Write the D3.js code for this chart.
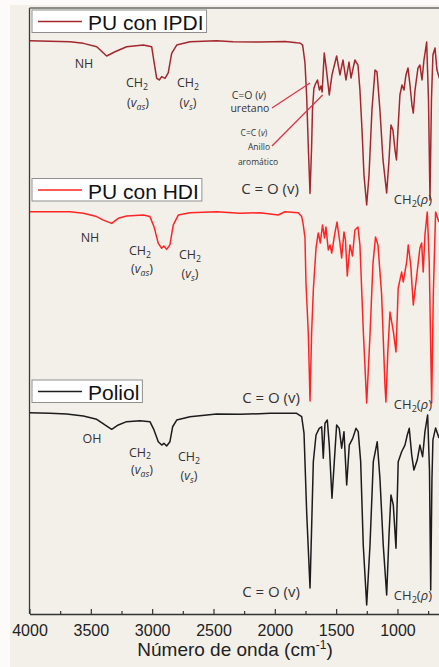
<!DOCTYPE html>
<html><head><meta charset="utf-8">
<script src="https://cdn.jsdelivr.net/npm/d3@7"></script>
<style>html,body{margin:0;padding:0;background:#fff;} svg{display:block;}</style>
</head><body>
<script>
// ---------------- DATA ----------------
const xTicksMajor = [4000, 3500, 3000, 2500, 2000, 1500, 1000];
const xTicksMinor = [3750, 3250, 2750, 2250, 1750, 1250, 750];
const seriesNames = ["PU con IPDI", "PU con HDI", "Poliol"];

const ipdiWavenumber = [4000,3670,3561,3452,3371,3303,3208,3072,3004,2985,2963,2942,2922,2895,2869,2841,2800,2692,2474,2341,2121,1917,1822,1795,1773,1754,1740,1727,1713,1700,1693,1681,1669,1652,1636,1624,1614,1597,1579,1556,1534,1496,1469,1444,1420,1395,1379,1347,1322,1306,1289,1273,1251,1232,1208,1183,1167,1143,1118,1088,1069,1053,1037,1020,1008,996,980,963,947,931,914,898,882,871,857,833,817,800,784,762,747,735,723,711,694,678,654];
const ipdiTransmittance = [99.6,99.0,98.0,96.0,90.5,93.0,96.0,97.0,96.0,87.1,77.2,76.2,78.2,77.2,80.4,92.1,97.0,99.0,99.6,99.0,98.8,99.1,98.3,98.2,97.0,86.3,66.2,36.5,8.7,36.5,58.3,71.4,73.8,76.2,70.2,72.6,69.0,92.3,82.1,67.3,79.2,90.5,79.2,88.1,76.2,86.9,77.4,88.1,85.1,70.2,46.4,19.6,1.8,19.6,58.3,82.1,81.0,58.3,28.6,8.9,28.6,49.4,46.4,34.5,28.6,46.4,67.3,73.2,70.2,79.2,83.3,73.2,61.3,56.5,70.2,83.3,85.1,76.2,88.1,98.8,64.3,4.8,64.3,91.1,95.2,82.1,76.2];

const hdiWavenumber = [4000,3670,3561,3452,3398,3330,3276,3208,3072,3018,2985,2950,2922,2904,2882,2855,2828,2787,2692,2474,2284,2121,1972,1917,1809,1781,1768,1754,1746,1727,1713,1700,1686,1664,1646,1629,1611,1595,1583,1564,1550,1536,1510,1493,1469,1455,1436,1424,1409,1387,1367,1347,1322,1306,1279,1251,1224,1200,1179,1159,1129,1102,1094,1078,1061,1034,1012,994,966,953,925,912,892,871,849,817,803,790,776,757,741,721,708,689,662];
const hdiTransmittance = [99.1,99.1,98.3,96.6,94.8,93.1,95.7,96.9,97.4,96.6,91.4,82.8,80.3,81.4,79.7,82.0,92.3,97.4,98.6,99.1,98.3,98.6,97.4,99.1,98.6,96.6,92.3,85.6,62.4,36.6,1.5,36.6,58.8,80.4,88.2,83.0,92.3,85.6,91.2,79.4,82.0,77.8,88.2,93.8,83.0,75.3,88.7,84.5,66.0,82.0,76.3,89.7,91.2,82.0,38.1,0.5,35.6,72.2,86.1,82.0,56.2,9.8,1.0,27.8,47.4,37.6,26.8,59.8,68.0,62.9,73.2,82.0,71.7,51.0,62.9,80.4,83.0,68.0,87.1,99.0,73.2,0.5,56.2,99.0,93.8];

const poliolWavenumber = [4000,3833,3697,3561,3452,3385,3330,3276,3208,3099,3018,2985,2950,2922,2904,2882,2855,2833,2800,2692,2474,2284,2039,1822,1781,1762,1740,1713,1700,1686,1664,1638,1618,1605,1591,1572,1556,1534,1515,1496,1475,1455,1436,1414,1393,1365,1338,1320,1300,1279,1251,1224,1197,1165,1143,1116,1088,1069,1053,1034,1012,994,966,939,920,904,884,866,839,817,795,776,754,739,729,719,711,689,662];
const poliolTransmittance = [99.1,98.8,98.5,97.5,95.8,92.9,90.7,92.9,94.6,95.1,94.6,90.4,84.4,82.7,83.6,82.2,84.4,92.0,95.4,97.1,98.5,98.3,98.8,98.8,97.1,88.8,48.2,10.2,40.6,74.3,87.8,91.2,92.0,76.0,93.8,95.4,82.7,55.7,74.3,92.9,91.2,81.1,89.5,62.4,82.7,86.1,91.2,89.5,74.3,32.0,1.5,32.0,74.3,84.4,65.8,32.0,6.6,37.1,57.4,52.3,30.3,74.3,79.3,82.7,87.8,91.2,77.7,70.0,75.1,82.7,76.8,89.5,98.0,70.0,9.1,65.0,85.3,91.4,86.3];

// annotation labels: text parts [string, flags] (i = italic, s = subscript), anchor in data units
const ipdiLabels = [
  {parts:[["NH",""]], w:3556, t:83.3, size:12.5},
  {parts:[["CH",""],["2","s"]], w:3124, t:71.8, size:12.5},
  {parts:[["(",""],["v","i"],["as","is"],[")",""]], w:3116, t:60.2, size:12.5},
  {parts:[["CH",""],["2","s"]], w:2708, t:71.8, size:12.5},
  {parts:[["(",""],["v","i"],["s","is"],[")",""]], w:2708, t:60.2, size:12.5},
  {parts:[["C=O (",""],["v","i"],[")",""]], w:2211, t:64.9, size:10.5},
  {parts:[["uretano",""]], w:2203, t:57.1, size:10.5},
  {parts:[["C=C (",""],["v","i"],[")",""]], w:2170, t:42.9, size:8.5},
  {parts:[["Anillo",""]], w:2129, t:34.5, size:8.5},
  {parts:[["aromático",""]], w:2137, t:25.6, size:8.5},
  {parts:[["C = O (v)",""]], w:2039, t:8.3, size:15},
  {parts:[["CH",""],["2","s"],["(",""],["ρ","i"],[")",""]], w:874, t:2.4, size:13}
];
const ipdiPointers = [
  {w1:2023, t1:59.5, w2:1713, t2:74.4},
  {w1:2023, t1:36.9, w2:1610, t2:67.3}
];
const hdiLabels = [
  {parts:[["NH",""]], w:3507, t:83.5, size:12.5},
  {parts:[["CH",""],["2","s"]], w:3099, t:76.6, size:12.5},
  {parts:[["(",""],["v","i"],["as","is"],[")",""]], w:3083, t:67.3, size:12.5},
  {parts:[["CH",""],["2","s"]], w:2692, t:74.5, size:12.5},
  {parts:[["(",""],["v","i"],["s","is"],[")",""]], w:2692, t:64.8, size:12.5},
  {parts:[["C = O (v)",""]], w:2031, t:0.5, size:15},
  {parts:[["CH",""],["2","s"],["(",""],["ρ","i"],[")",""]], w:874, t:-2.6, size:13}
];
const poliolLabels = [
  {parts:[["OH",""]], w:3490, t:83.8, size:12.5},
  {parts:[["CH",""],["2","s"]], w:3099, t:76.9, size:12.5},
  {parts:[["(",""],["v","i"],["as","is"],[")",""]], w:3083, t:67.8, size:12.5},
  {parts:[["CH",""],["2","s"]], w:2700, t:74.4, size:12.5},
  {parts:[["(",""],["v","i"],["s","is"],[")",""]], w:2700, t:64.8, size:12.5},
  {parts:[["C = O (v)",""]], w:2031, t:5.6, size:15},
  {parts:[["CH",""],["2","s"],["(",""],["ρ","i"],[")",""]], w:874, t:4.1, size:13}
];

// ---------------- LAYOUT ----------------
const W = 439, H = 667;
const svg = d3.select("body").append("svg").attr("width", W).attr("height", H);
svg.append("rect").attr("width", W).attr("height", H).attr("fill", "#fcfbf9");
svg.append("rect").attr("x", 10).attr("y", 5).attr("width", W).attr("height", H).attr("fill", "#f3f0ea");

const x = d3.scaleLinear().domain([4000, 650]).range([29.5, 440.4]);
const axisY = 614, frameTop = 8;

const panels = [
  {name: seriesNames[0], w: ipdiWavenumber, t: ipdiTransmittance, color: "#a3272d",
   y: d3.scaleLinear().domain([0, 100]).range([208, 40]), legendTop: 10, labels: ipdiLabels},
  {name: seriesNames[1], w: hdiWavenumber, t: hdiTransmittance, color: "#ff2424",
   y: d3.scaleLinear().domain([0, 100]).range([404, 210]), legendTop: 178.5, labels: hdiLabels},
  {name: seriesNames[2], w: poliolWavenumber, t: poliolTransmittance, color: "#1c1c1c",
   y: d3.scaleLinear().domain([0, 100]).range([608, 411]), legendTop: 380, labels: poliolLabels}
];

svg.append("clipPath").attr("id", "plotclip").append("rect")
  .attr("x", 29.5).attr("y", frameTop).attr("width", 420).attr("height", axisY - frameTop);

// frame
svg.append("line").attr("x1", 29.5).attr("x2", 29.5).attr("y1", frameTop).attr("y2", axisY)
  .attr("stroke", "#3a3a3a").attr("stroke-width", 1.3);
svg.append("line").attr("x1", 29.5).attr("x2", 441).attr("y1", frameTop).attr("y2", frameTop)
  .attr("stroke", "#6a6a6a").attr("stroke-width", 1.3);

// spectra
panels.forEach(p => {
  const pts = d3.zip(p.w, p.t);
  const line = d3.line().x(d => x(d[0])).y(d => p.y(d[1]));
  svg.append("path").datum(pts)
    .attr("clip-path", "url(#plotclip)")
    .attr("fill", "none").attr("stroke", p.color).attr("stroke-width", 1.5)
    .attr("stroke-linejoin", "round").attr("d", line);
});

// axis
const axG = svg.append("g").attr("transform", `translate(0,${axisY})`);
axG.call(d3.axisBottom(x).tickValues(xTicksMajor).tickSizeInner(-5).tickSizeOuter(0)
  .tickPadding(11).tickFormat(d3.format("d")));
axG.select(".domain").attr("stroke", "#333").attr("stroke-width", 1.3);
axG.selectAll(".tick line").attr("stroke", "#333").attr("stroke-width", 1.2);
axG.selectAll(".tick text").attr("font-family", "'Liberation Sans', Arial, sans-serif")
  .attr("font-size", 16).attr("fill", "#222");
const axMinor = svg.append("g").attr("transform", `translate(0,${axisY})`);
axMinor.call(d3.axisBottom(x).tickValues(xTicksMinor).tickSizeInner(-3).tickSizeOuter(0).tickFormat(""));
axMinor.select(".domain").remove();
axMinor.selectAll(".tick line").attr("stroke", "#333").attr("stroke-width", 1.2);

const title = svg.append("text").attr("x", 235).attr("y", 656).attr("text-anchor", "middle")
  .attr("font-family", "'Liberation Sans', Arial, sans-serif").attr("font-size", 19).attr("fill", "#222");
title.append("tspan").text("Número de onda (cm");
title.append("tspan").attr("dy", -7).attr("font-size", 12).text("-1");
title.append("tspan").attr("dy", 7).text(")");

// legends
panels.forEach(p => {
  const g = svg.append("g");
  const rect = g.append("rect").attr("x", 32).attr("y", p.legendTop).attr("height", 22.5)
    .attr("fill", "#ffffff").attr("stroke", "#8f8f8f").attr("stroke-width", 1);
  g.append("line").attr("x1", 38).attr("x2", 82).attr("y1", p.legendTop + 11.5).attr("y2", p.legendTop + 11.5)
    .attr("stroke", p.color).attr("stroke-width", 1.5);
  const txt = g.append("text").attr("x", 88).attr("y", p.legendTop + 20.3)
    .attr("font-family", "'Liberation Sans', Arial, sans-serif").attr("font-size", 21).attr("fill", "#111")
    .text(p.name);
  const len = txt.node().getComputedTextLength();
  rect.attr("width", 88 + len + 3 - 32);
});

// annotations
function richText(g, parts, size, px, py) {
  const t = g.append("text").attr("x", px).attr("y", py).attr("text-anchor", "middle")
    .attr("font-family", "'Open Sans', 'Noto Sans', sans-serif").attr("font-size", size).attr("fill", "#333");
  let shift = 0;
  parts.forEach(([s, f]) => {
    const sp = t.append("tspan").text(s);
    if (f.includes("i")) sp.attr("font-style", "italic");
    const target = f.includes("s") ? size * 0.22 : 0;
    if (target !== shift) { sp.attr("dy", target - shift); shift = target; }
    if (f.includes("s")) sp.attr("font-size", size * 0.7);
  });
  return t;
}
panels.forEach(p => {
  const g = svg.append("g");
  p.labels.forEach(l => richText(g, l.parts, l.size, x(l.w), p.y(l.t)));
});
ipdiPointers.forEach(ptr => {
  svg.append("line").attr("x1", x(ptr.w1)).attr("y1", panels[0].y(ptr.t1))
    .attr("x2", x(ptr.w2)).attr("y2", panels[0].y(ptr.t2))
    .attr("stroke", "#dc3545").attr("stroke-width", 1.3);
});
</script>
</body></html>
